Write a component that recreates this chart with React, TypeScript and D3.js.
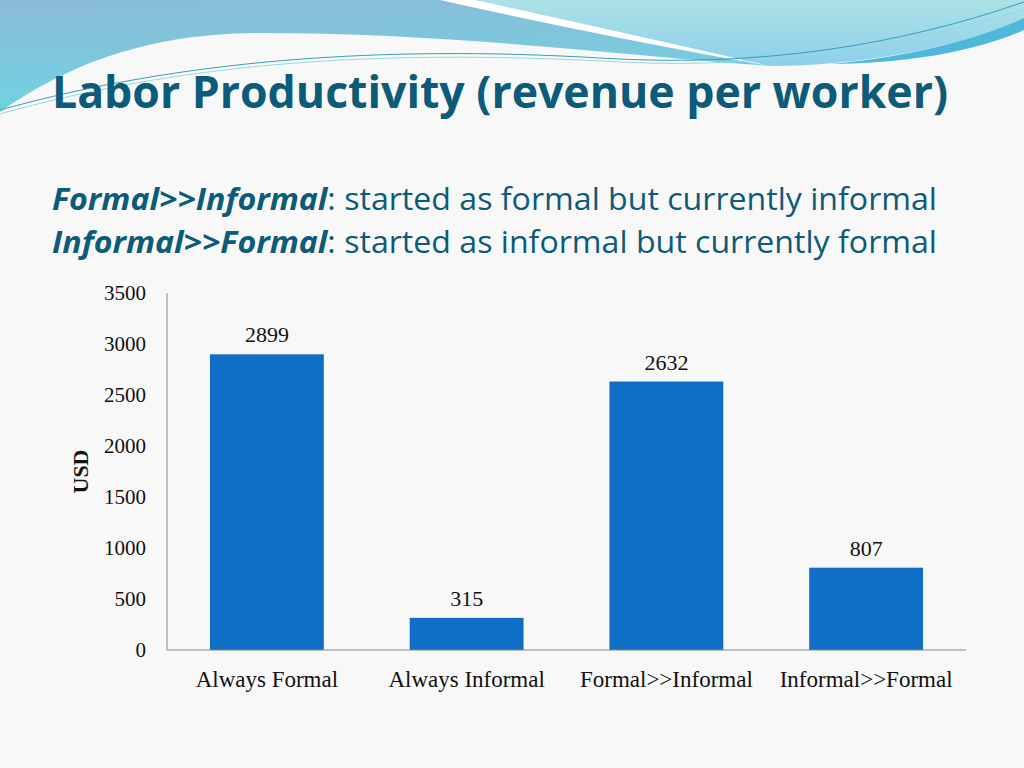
import React from "react";
import * as d3 from "d3";

const categories = ["Always Formal", "Always Informal", "Formal>>Informal", "Informal>>Formal"];
const revenue = [2899, 315, 2632, 807];
const yTicks = [0, 500, 1000, 1500, 2000, 2500, 3000, 3500];

const W = 1024;
const H = 768;
const plot = { left: 167, right: 966, top: 293, bottom: 650 };

const titleColor = "#0c5b78";
const barColor = "#0f6fc6";
const serif = "'Liberation Serif', 'Times New Roman', serif";
const sans = "'Open Sans', Lato, sans-serif";

export default function App() {
  const x = d3.scaleBand<string>()
    .domain(categories)
    .range([plot.left, plot.right])
    .padding(0);
  const y = d3.scaleLinear().domain([0, 3500]).range([plot.bottom, plot.top]);
  const barW = x.bandwidth() * 0.57;

  return (
    <svg
      width={W}
      height={H}
      style={{ position: "absolute", left: 0, top: 0 }}
    >
      <defs>
        <linearGradient id="leftBlue" x1="0" y1="0" x2="0.2" y2="1">
          <stop offset="0" stopColor="#8bbbd8" />
          <stop offset="1" stopColor="#6fd3e2" />
        </linearGradient>
        <linearGradient id="rightCyan" x1="0" y1="0" x2="0" y2="1">
          <stop offset="0" stopColor="#ade2e6" />
          <stop offset="1" stopColor="#8ccfec" />
        </linearGradient>
      </defs>
      <rect width={W} height={H} fill="#f8f8f8" />

      {/* header wave */}
      <path
        d="M0,0 L470,0 Q620,32 770,66 C620,55 450,33 260,33 C140,33 60,70 0,112 Z"
        fill="url(#leftBlue)"
      />
      <path
        d="M470,0 L1024,0 L1024,22 C950,48 860,66 770,66 Q620,32 470,0 Z"
        fill="url(#rightCyan)"
      />
      <path d="M440,0 L475,0 Q630,34 770,66 Q600,36 440,0 Z" fill="#ffffff" />
      <path
        d="M830,64 C920,56 985,36 1024,18 L1024,30 C980,50 910,64 830,64 Z"
        fill="#4fb7da"
      />
      <path
        d="M0,110 C180,60 380,45 600,58 C760,68 900,45 1024,2"
        fill="none"
        stroke="#3a9fb5"
        strokeWidth={1}
      />
      <path
        d="M0,114 C200,58 400,50 620,62 C780,70 910,42 1024,10"
        fill="none"
        stroke="#9ad6e0"
        strokeWidth={1}
      />

      {/* title and notes */}
      <text x={52} y={108} fill={titleColor} fontFamily={sans} fontWeight={700} fontSize={44}
        textLength={896} lengthAdjust="spacingAndGlyphs">
        Labor Productivity (revenue per worker)
      </text>
      <text x={52} y={210} fill={titleColor} fontFamily={sans} fontSize={31}
        textLength={885} lengthAdjust="spacingAndGlyphs">
        <tspan fontWeight={700} fontStyle="italic">Formal&gt;&gt;Informal</tspan>
        <tspan>: started as formal but currently informal</tspan>
      </text>
      <text x={52} y={253} fill={titleColor} fontFamily={sans} fontSize={31}
        textLength={885} lengthAdjust="spacingAndGlyphs">
        <tspan fontWeight={700} fontStyle="italic">Informal&gt;&gt;Formal</tspan>
        <tspan>: started as informal but currently formal</tspan>
      </text>

      {/* y ticks */}
      {yTicks.map((t) => (
        <text
          key={t}
          x={146}
          y={y(t)}
          dy="0.32em"
          textAnchor="end"
          fontFamily={serif}
          fontSize={21}
          fill="#111"
        >
          {t}
        </text>
      ))}
      <text
        transform={`translate(88,${(plot.top + plot.bottom) / 2}) rotate(-90)`}
        textAnchor="middle"
        fontFamily={serif}
        fontWeight={700}
        fontSize={22}
        fill="#111"
      >
        USD
      </text>

      {/* bars */}
      {categories.map((c, i) => {
        const cx = (x(c) ?? 0) + x.bandwidth() / 2;
        return (
          <g key={c}>
            <rect
              x={cx - barW / 2}
              y={y(revenue[i])}
              width={barW}
              height={y(0) - y(revenue[i])}
              fill={barColor}
            />
            <text
              x={cx}
              y={y(revenue[i]) - 12}
              textAnchor="middle"
              fontFamily={serif}
              fontSize={22}
              fill="#111"
            >
              {revenue[i]}
            </text>
            <text
              x={cx}
              y={687}
              textAnchor="middle"
              fontFamily={serif}
              fontSize={23}
              fill="#111"
            >
              {c}
            </text>
          </g>
        );
      })}

      {/* axes */}
      <line x1={plot.left} x2={plot.left} y1={plot.top} y2={plot.bottom} stroke="#888" strokeWidth={1} />
      <line x1={plot.left} x2={plot.right} y1={plot.bottom} y2={plot.bottom} stroke="#888" strokeWidth={1} />
    </svg>
  );
}
